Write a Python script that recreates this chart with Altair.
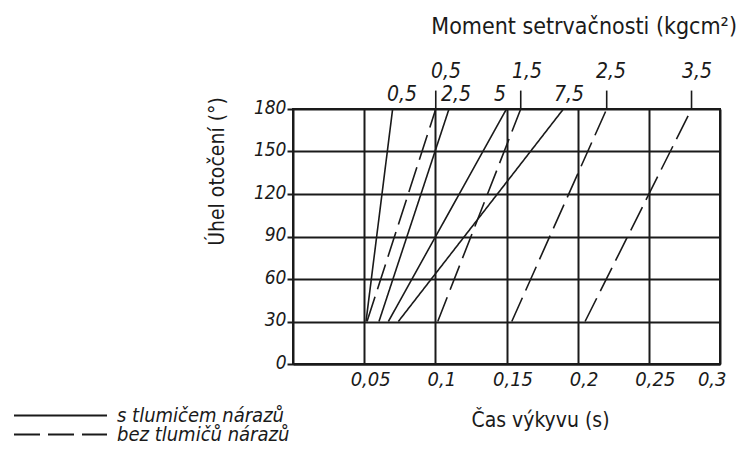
import altair as alt
import pandas as pd

# --- data ---
solid_name = "s tlumičem nárazů"
dashed_name = "bez tlumičů nárazů"

solid_moments = ["0,5", "2,5", "5", "7,5"]
solid_t_start = [0.0513, 0.0604, 0.0670, 0.0740]   # time at 30°
solid_t_end = [0.0700, 0.1096, 0.1500, 0.1900]     # time at 180°
solid_label_t = [0.0766, 0.1145, 0.1454, 0.1939]

dashed_moments = ["0,5", "1,5", "2,5", "3,5"]
dashed_t_start = [0.0520, 0.1017, 0.1537, 0.2052]
dashed_t_end = [0.1003, 0.1600, 0.2204, 0.2800]
dashed_label_t = [0.1075, 0.1644, 0.2234, 0.2838]

angle_start = 30
angle_end = 180
leader_top = 193
solid_label_angle = 190
dashed_label_angle = 206

x_ticks = [0.05, 0.1, 0.15, 0.2, 0.25, 0.3]
y_ticks = [0, 30, 60, 90, 120, 150, 180]

FONT = "Liberation Sans Narrow, DejaVu Sans Condensed, Roboto, sans-serif"
INK = "#1a1a1a"


def series_rows(prefix, name, moments, starts, ends):
    out = []
    for m, a, b in zip(moments, starts, ends):
        out.append({"series": prefix + m, "typ": name, "t": a, "angle": angle_start})
        out.append({"series": prefix + m, "typ": name, "t": b, "angle": angle_end})
    return pd.DataFrame(out)


solid_df = series_rows("s", solid_name, solid_moments, solid_t_start, solid_t_end)
dashed_df = series_rows("d", dashed_name, dashed_moments, dashed_t_start, dashed_t_end)

leaders_df = pd.DataFrame({"t": dashed_t_end, "a1": angle_end, "a2": leader_top})

labels_df = pd.DataFrame({
    "t": solid_label_t + dashed_label_t,
    "angle": [solid_label_angle] * 4 + [dashed_label_angle] * 4,
    "txt": solid_moments + dashed_moments,
})

xscale = alt.Scale(domain=[0, 0.3], nice=False, zero=False)
yscale = alt.Scale(domain=[0, 180], nice=False)

xaxis = alt.Axis(
    values=x_ticks, grid=True, ticks=False, domain=True,
    labelExpr="replace(format(datum.value, '.2~f'), '.', ',')",
    labelFontStyle="italic", labelFontSize=20, labelFont=FONT, labelColor=INK,
    labelPadding=5, labelOffset=6, labelBaseline="top",
    title="Čas výkyvu (s)", titleFont=FONT, titleFontSize=21, titleFontWeight="normal",
    titleColor=INK, titleX=247, titleY=56, titleBaseline="middle", titleAlign="center",
)
yaxis = alt.Axis(
    values=y_ticks, grid=True, ticks=True, tickSize=6, tickWidth=2, tickColor=INK,
    labelFontStyle="italic", labelFontSize=19, labelFont=FONT, labelColor=INK,
    labelPadding=1, labelBaseline="middle", labelOffset=-2,
    title="Úhel otočení (°)", titleFont=FONT, titleFontSize=21, titleFontWeight="normal",
    titleColor=INK, titleX=-76, titleY=62, titleAngle=-90, titleBaseline="middle",
    titleAlign="center",
)


def legend_at(y):
    return alt.Legend(
        title=None, orient="none", legendX=-280, legendY=y,
        symbolType="stroke", symbolSize=8649, symbolStrokeWidth=1.8,
        symbolStrokeColor=INK, padding=0, offset=0,
        labelFont=FONT, labelFontSize=20, labelFontStyle="italic",
        labelColor=INK, labelOffset=9, labelLimit=400,
    )


solid_lines = alt.Chart(solid_df).mark_line(color=INK, strokeWidth=1.6).encode(
    x=alt.X("t:Q", scale=xscale, axis=xaxis),
    y=alt.Y("angle:Q", scale=yscale, axis=yaxis),
    detail="series:N",
    strokeDash=alt.StrokeDash(
        "typ:N", scale=alt.Scale(domain=[solid_name], range=[[1, 0]]),
        legend=legend_at(259),
    ),
)

dashed_lines = alt.Chart(dashed_df).mark_line(color=INK, strokeWidth=1.6).encode(
    x=alt.X("t:Q", scale=xscale),
    y=alt.Y("angle:Q", scale=yscale),
    detail="series:N",
    strokeDash=alt.StrokeDash(
        "typ:N", scale=alt.Scale(domain=[dashed_name], range=[[26, 8]]),
        legend=legend_at(278),
    ),
)

leaders = alt.Chart(leaders_df).mark_rule(color=INK, strokeWidth=1.6).encode(
    x="t:Q", y="a1:Q", y2="a2:Q"
)

labels = alt.Chart(labels_df).mark_text(
    font=FONT, fontSize=21, fontStyle="italic", color=INK, align="center", baseline="middle"
).encode(x="t:Q", y="angle:Q", text="txt:N")

chart = (
    alt.layer(solid_lines, dashed_lines, leaders, labels)
    .resolve_scale(strokeDash="independent")
    .resolve_legend(strokeDash="independent")
    .properties(
        width=427, height=255,
        background="white",
        autosize=alt.AutoSizeParams(type="none"),
        padding={"left": 285, "top": 101, "right": 18, "bottom": 79},
        title=alt.TitleParams(
            "Moment setrvačnosti (kgcm²)", anchor="end", frame="group",
            orient="top", offset=4, baseline="alphabetic", dx=17,
            font=FONT, fontSize=23, fontWeight="normal", color=INK,
        ),
    )
    .configure_view(stroke=INK, strokeWidth=2)
    .configure_axis(gridColor=INK, gridWidth=2, gridOpacity=1, domainColor=INK, domainWidth=2)
)

chart.save("out.html", embed_options={"renderer": "svg", "actions": False})
